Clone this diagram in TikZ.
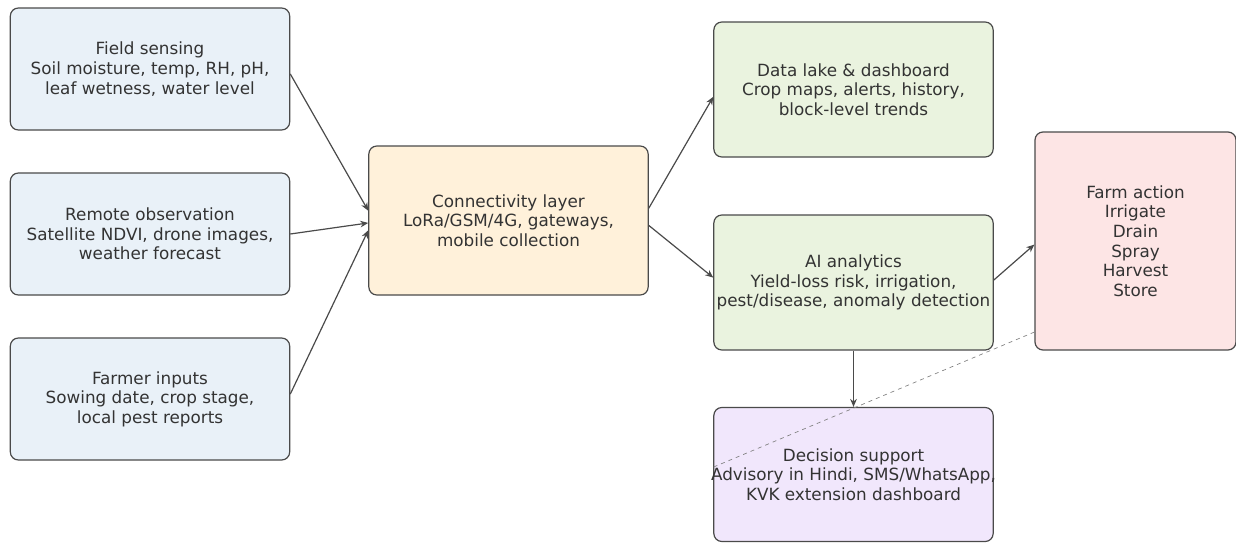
\documentclass[tikz,border=0pt]{standalone}
\usepackage{fontspec}
\setmainfont{DejaVu Sans}
\usetikzlibrary{positioning,arrows.meta}

\definecolor{sourcefill}{HTML}{E9F1F8}
\definecolor{linkfill}{HTML}{FFF1DA}
\definecolor{datafill}{HTML}{EAF3DF}
\definecolor{actionfill}{HTML}{FDE5E5}
\definecolor{supportfill}{HTML}{F1E7FC}
\definecolor{edgegray}{HTML}{4A4A4A}

\begin{document}
\begin{tikzpicture}[x=0.75pt, y=-0.75pt, node distance=123.75pt,
    >={Stealth[length=6pt,width=5pt]},
    every node/.style={font=\fontsize{12.6pt}{14.7pt}\selectfont, text=black!80, align=center},
    box/.style={draw=edgegray, line width=0.9pt, rounded corners=6pt, rectangle,
      minimum width=209.5pt, minimum height=91.5pt, inner xsep=0pt},
    flow/.style={->, draw=edgegray, line width=0.9pt}]
    \useasboundingbox (0,0) rectangle (1236,543);
    % Sources
    \node (field) [box, fill=sourcefill] at (150,69) {Field sensing\\Soil moisture, temp, RH, pH,\\leaf wetness, water level};
    \node (remote) [box, fill=sourcefill, below of=field] {Remote observation\\Satellite NDVI, drone images,\\weather forecast};
    \node (farmer) [box, fill=sourcefill, below of=remote] {Farmer inputs\\Sowing date, crop stage,\\local pest reports};
    % Middle and right
    \node (conn) [box, fill=linkfill, minimum height=111.75pt] at (508.5,220.5) {Connectivity layer\\LoRa/GSM/4G, gateways,\\mobile collection};
    \node (lake) [box, fill=datafill, minimum height=101.25pt] at (853.5,89.5) {Data lake \& dashboard\\Crop maps, alerts, history,\\block-level trends};
    \node (ai) [box, fill=datafill, minimum height=101.25pt] at (853.5,282.5) {AI analytics\\Yield-loss risk, irrigation,\\\makebox[200pt]{pest/disease, anomaly detection}};
    \node (decision) [box, fill=supportfill, minimum height=100.5pt] at (853.5,474.5) {Decision support\\\makebox[200pt]{Advisory in Hindi, SMS/WhatsApp,}\\KVK extension dashboard};
    \node (farm) [box, fill=actionfill, minimum width=150.75pt, minimum height=163.5pt] at (1135.5,241) {Farm action\\Irrigate\\Drain\\Spray\\Harvest\\Store};
    % Arrows
    \draw[flow] (field.358) -- (conn.176);
    \draw[flow] (remote.east) -- (conn.181);
    \draw[flow] (farmer.2) -- (conn.184);
    \draw[flow] (conn.5) -- (lake.183);
    \draw[flow] (conn.358) -- (ai.178);
    \draw[flow] (ai.1) -- (farm.182);
    \draw[flow] (ai.south) -- (decision.north);
    \draw[edgegray!70, line width=0.5pt, dashed] (farm.222) -- (decision.177);
  \end{tikzpicture}
\end{document}
